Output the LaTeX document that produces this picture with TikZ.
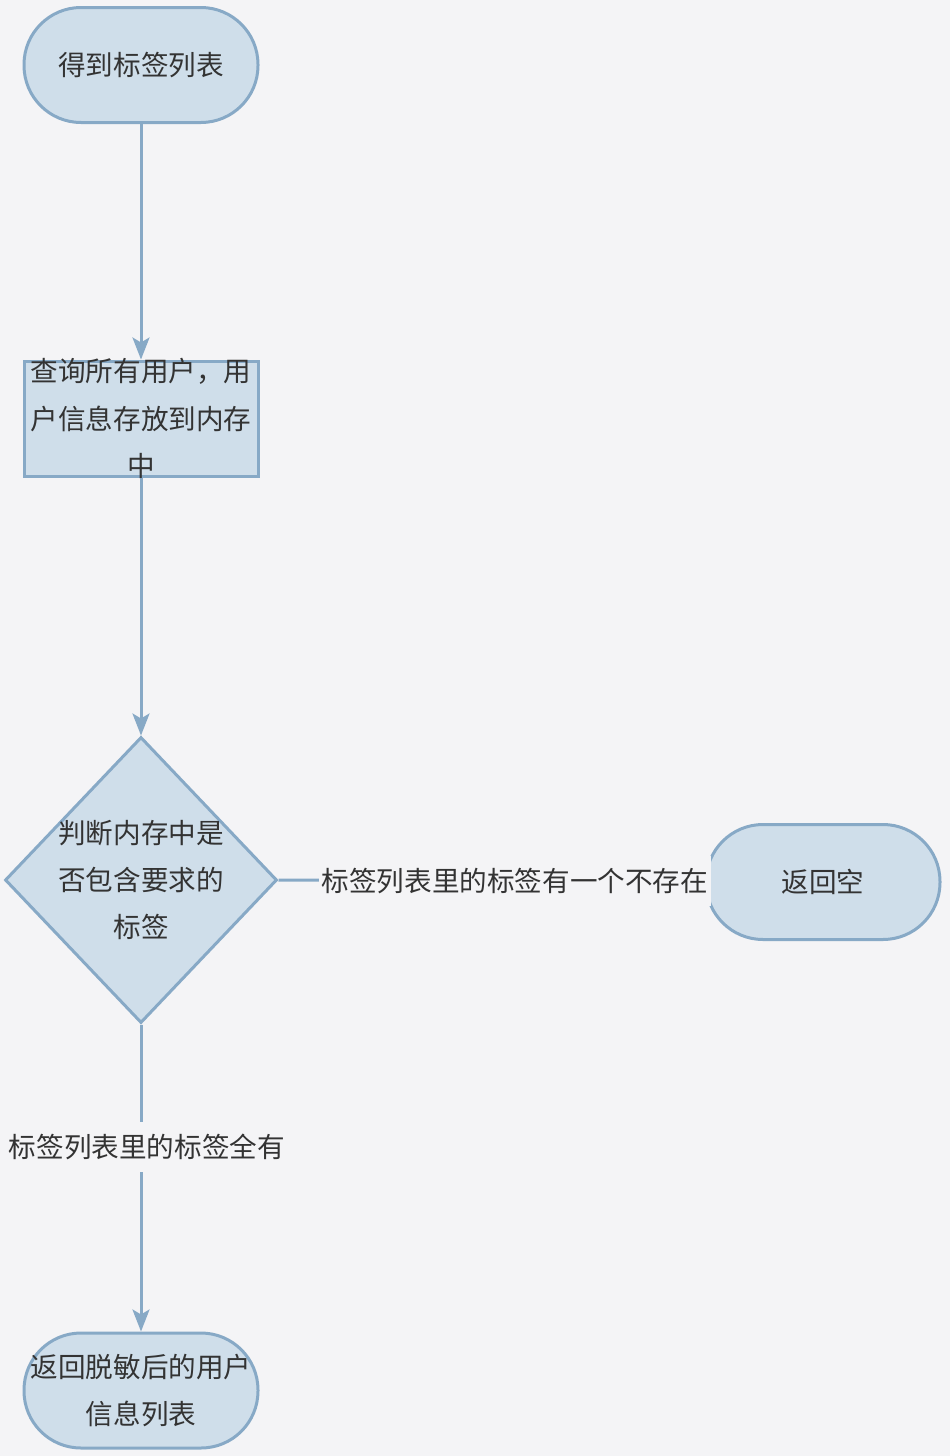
\documentclass[tikz,border=0pt]{standalone}
\usepackage{fontspec}
\newfontfamily\cjk{Noto Sans CJK SC}
\usepackage{tikz}
\usetikzlibrary{shapes.geometric,arrows.meta}

\definecolor{bgcol}{HTML}{F4F4F6}
\definecolor{boxfill}{HTML}{CFDEEA}
\definecolor{boxline}{HTML}{87A9C6}
\definecolor{txtcol}{HTML}{333333}

\begin{document}
\begin{tikzpicture}
 [x=1pt, y=1pt,
  term node/.style={rectangle, rounded corners=28.5pt, fill=boxfill, draw=boxline, line width=1.5pt,
     minimum width=117pt, minimum height=57.5pt, inner sep=0pt, align=center,
     text=txtcol, font=\cjk\fontsize{13.8}{23.75}\selectfont},
  proc node/.style={rectangle, fill=boxfill, draw=boxline, line width=1.5pt,
     minimum width=117pt, minimum height=57.5pt, inner xsep=0pt, inner ysep=-2pt, align=center,
     text=txtcol, font=\cjk\fontsize{13.8}{23.75}\selectfont},
  dec node/.style={diamond, fill=boxfill, draw=boxline, line width=1.5pt,
     minimum width=136pt, minimum height=143pt, inner sep=-4pt, align=center,
     text=txtcol, font=\cjk\fontsize{13.8}{23.5}\selectfont},
  flow/.style={draw=boxline, line width=1.5pt, -{Stealth[length=11pt,width=8.5pt,inset=2.5pt]}},
  edge label/.style={fill=bgcol, inner xsep=1.5pt, inner ysep=6pt, text=txtcol,
     font=\cjk\fontsize{13.8}{16}\selectfont}]

 \fill[bgcol] (0,0) rectangle (475,-728);
 \useasboundingbox (0,0) rectangle (475,-728);

 \node[term node] (start) at (70.5,-32.5) {得到标签列表};
 \node[proc node] (query) [below of=start, node distance=176.75pt] {查询所有用户，用\\户信息存放到内存\\中};
 \node[dec node] (check) [below of=query, node distance=230.75pt] {判断内存中是\\否包含要求的\\标签};
 \node[term node] (empty) [right of=check, node distance=341pt, yshift=-1pt] {返回空};
 \node[term node] (result) [below of=check, node distance=255.25pt] {返回脱敏后的用户\\信息列表};

 \path
  (start) edge [flow] (query)
  (query) edge [flow] (check)
  (check.east) edge [flow] node [edge label, pos=0.555] {标签列表里的标签有一个不存在} (empty.west)
  (check) edge [flow] node [edge label, pos=0.4, xshift=3pt] {标签列表里的标签全有} (result);

\end{tikzpicture}
\end{document}
